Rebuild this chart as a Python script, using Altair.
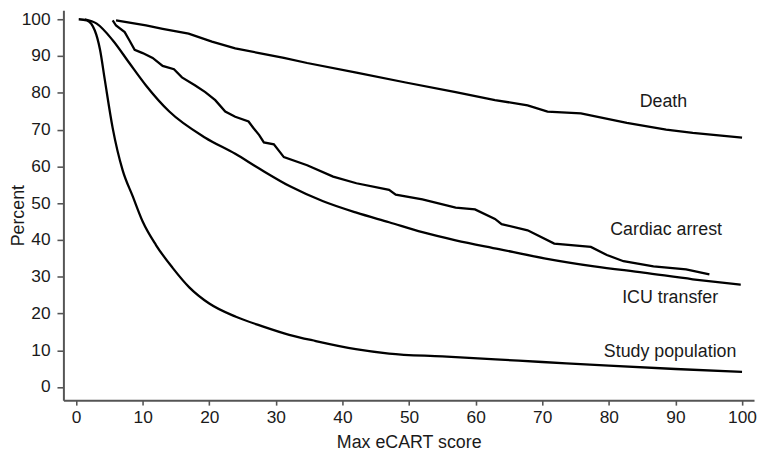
import altair as alt
import pandas as pd

# ---- data ----
study_x = [0.4, 1.6, 2.8, 3.6, 4.3, 5.5, 7.0, 8.5, 10, 12, 14.5, 17, 20, 24, 28, 32, 36, 42, 47, 55, 63, 70, 80, 90, 100]
study_y = [100, 99.7, 97, 91.7, 83.7, 70.4, 58.9, 51.9, 45, 38.6, 32.4, 27.1, 22.7, 19.1, 16.5, 14.2, 12.5, 10.3, 9.1, 8.3, 7.5, 6.8, 5.8, 4.9, 4.1]

icu_x = [1.3, 3.1, 5.5, 8.0, 10.5, 14, 19.4, 23.9, 27.5, 32.2, 37.1, 42.1, 47, 52, 57, 63.5, 70.3, 77.8, 85.2, 92.6, 99.8]
icu_y = [100, 98.8, 94.3, 88.1, 82, 74.9, 67.8, 63.4, 59.4, 54.5, 50.5, 47.4, 44.8, 42.1, 39.9, 37.5, 35, 32.8, 31.1, 29.3, 27.8]

arrest_x = [5.5, 6.0, 7.3, 8.0, 8.8, 10, 11.5, 13, 14.7, 15.9, 17.9, 19.4, 20.9, 22.4, 23.9, 25.9, 26.6, 27.5, 28.2, 29.7, 31.2,
            34.7, 38.6, 42.1, 47, 48, 52, 57, 59.9, 62.9, 63.9, 67.8, 71.8, 77.3, 79.7, 82.2, 86.7, 91.6, 95.1]
arrest_y = [99.7, 98.3, 96.5, 94.3, 91.7, 90.8, 89.5, 87.3, 86.4, 84.2, 82, 80.2, 78, 74.9, 73.5, 72.2, 70.5, 68.5, 66.5, 66, 62.5,
            60.3, 57.2, 55.4, 53.6, 52.3, 51, 48.8, 48.3, 45.7, 44.3, 42.6, 39, 38.1, 35.9, 34.2, 32.8, 32, 30.6]

death_x = [6, 10.5, 13, 16.9, 20.4, 23.9, 27.5, 31.2, 34.7, 42.1, 49.5, 57, 62.9, 67.8, 70.8, 75.8, 82.7, 88.6, 92.6, 100]
death_y = [99.7, 98.3, 97.4, 96.1, 93.9, 92.1, 90.8, 89.5, 88.1, 85.5, 82.8, 80.2, 78, 76.6, 74.9, 74.4, 71.8, 70, 69.1, 67.8]

label_names = ["Death", "Cardiac arrest", "ICU transfer", "Study population"]
label_x = [88.2, 88.6, 89.2, 89.2]
label_y = [77.5, 42.6, 24.3, 9.6]

x_ticks = list(range(0, 101, 10))
y_ticks = list(range(0, 101, 10))

# ---- tables ----
def frame(name, xs, ys):
    return pd.DataFrame({"series": name, "x": xs, "y": ys, "order": range(len(xs))})

smooth = pd.concat([frame("Study population", study_x, study_y),
                    frame("ICU transfer", icu_x, icu_y)])
jagged = pd.concat([frame("Cardiac arrest", arrest_x, arrest_y),
                    frame("Death", death_x, death_y)])
labels = pd.DataFrame({"label": label_names, "x": label_x, "y": label_y})

FONT = "Liberation Sans"
INK = "#1a1a1a"
AX = "#555555"

xscale = alt.Scale(domain=[-1.9, 101.8], nice=False, zero=False)
yscale = alt.Scale(domain=[-3.58, 102.42], nice=False, zero=False)

xaxis = alt.Axis(values=x_ticks, title="Max eCART score", grid=False, labelOverlap=False,
                 titleX=349, titleY=48, titleBaseline="alphabetic", titleAlign="center",
                 labelPadding=4, tickSize=5,
                 domainColor=AX, domainWidth=2, tickColor=AX, tickWidth=1.6,
                 labelFont=FONT, labelFontSize=17.5, labelColor=INK,
                 titleFont=FONT, titleFontSize=18, titleColor=INK, titleFontWeight="normal")
yaxis = alt.Axis(values=y_ticks, title="Percent", grid=False, labelOverlap=False,
                 titleX=-40, titleY=207, titleAngle=270, titleAlign="center",
                 titleBaseline="alphabetic", labelPadding=7, tickSize=6.5,
                 domainColor=AX, domainWidth=2, tickColor=AX, tickWidth=1.6,
                 labelFont=FONT, labelFontSize=17.5, labelColor=INK,
                 titleFont=FONT, titleFontSize=18, titleColor=INK, titleFontWeight="normal")

enc = dict(
    x=alt.X("x:Q", scale=xscale, axis=xaxis),
    y=alt.Y("y:Q", scale=yscale, axis=yaxis),
)

line_smooth = alt.Chart(smooth).mark_line(color="black", strokeWidth=2.3, interpolate="monotone").encode(
    detail="series:N", order="order:Q", **enc)
line_jag = alt.Chart(jagged).mark_line(color="black", strokeWidth=2.3, interpolate="linear").encode(
    detail="series:N", order="order:Q", **enc)
text = alt.Chart(labels).mark_text(font=FONT, fontSize=18, color=INK, align="center", baseline="middle").encode(
    text="label:N", **enc)

chart = alt.layer(line_smooth, line_jag, text).properties(
    width=698, height=394,
    background="white",
    autosize=alt.AutoSizeParams(type="none"),
    padding={"left": 56, "top": 0, "right": 3, "bottom": 49},
).configure_view(stroke=None)

chart.save("out.html", embed_options={"renderer": "svg", "actions": False})
